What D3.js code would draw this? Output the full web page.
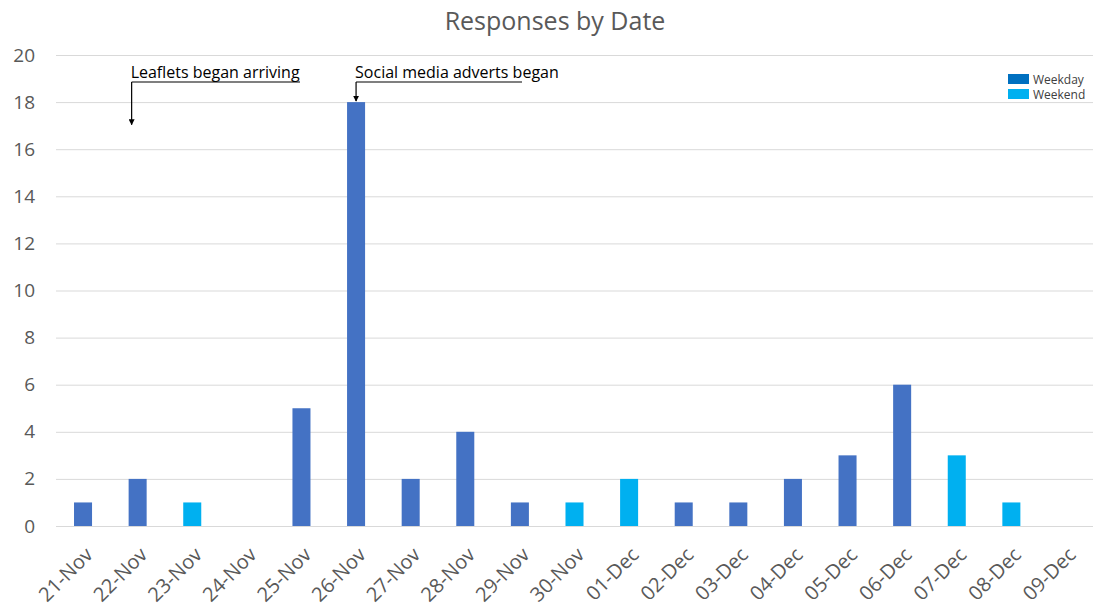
<!DOCTYPE html>
<html>
<head>
<meta charset="utf-8">
<script src="https://cdn.jsdelivr.net/npm/d3@7"></script>
<style>
  body { margin: 0; background: #fff; }
  svg { font-family: "Open Sans", "Noto Sans", sans-serif; }
</style>
</head>
<body>
<svg id="chart" width="1098" height="606"></svg>
<script>
// Daily response counts, with weekday/weekend flag per date
const dates = ["21-Nov","22-Nov","23-Nov","24-Nov","25-Nov","26-Nov","27-Nov","28-Nov","29-Nov","30-Nov",
               "01-Dec","02-Dec","03-Dec","04-Dec","05-Dec","06-Dec","07-Dec","08-Dec","09-Dec"];
const responses = [1,2,1,0,5,18,2,4,1,1,2,1,1,2,3,6,3,1,0];
const dayType = ["Weekday","Weekday","Weekend","Weekend","Weekday","Weekday","Weekday","Weekday","Weekday","Weekend",
                 "Weekend","Weekday","Weekday","Weekday","Weekday","Weekday","Weekend","Weekend","Weekday"];
const yTicks = [0,2,4,6,8,10,12,14,16,18,20];
const legendItems = ["Weekday","Weekend"];
const annotations = [
  {date: "22-Nov", label: "Leaflets began arriving", target: 17, shift: -6, lineEnd: 300},
  {date: "26-Nov", label: "Social media adverts began", target: 18, shift: 0, lineEnd: 522}
];

const svg = d3.select("#chart");
const margin = {top: 55, right: 5, bottom: 80, left: 56};
const W = 1098, H = 606;
const FONT = "'Open Sans', 'Noto Sans', sans-serif";

const x = d3.scaleBand().domain(dates).range([margin.left, W - margin.right]).paddingInner(0.67).paddingOuter(0.33);
const y = d3.scaleLinear().domain([0, 20]).range([H - margin.bottom, margin.top]);

const barColor = {Weekday: "#4472C4", Weekend: "#00B0F0"};
const legendColor = {Weekday: "#0070C0", Weekend: "#00B0F0"};

// Title
svg.append("text").attr("x", 555).attr("y", 30).attr("text-anchor", "middle")
  .attr("font-size", 25).attr("fill", "#595959").text("Responses by Date");

// Gridlines
svg.append("g").selectAll("line").data(yTicks).join("line")
  .attr("x1", margin.left).attr("x2", W - margin.right)
  .attr("y1", d => y(d) + 0.5).attr("y2", d => y(d) + 0.5)
  .attr("stroke", "#d9d9d9").attr("stroke-width", 1);

// Y axis labels
const yAxis = svg.append("g").attr("transform", `translate(${margin.left},0)`)
  .call(d3.axisLeft(y).tickValues(yTicks).tickSize(0).tickPadding(21));
yAxis.select(".domain").remove();
yAxis.selectAll("text").attr("font-size", 19).attr("fill", "#595959").attr("font-family", FONT);

// Bars
svg.append("g").selectAll("rect").data(dates).join("rect")
  .attr("x", d => x(d))
  .attr("width", x.bandwidth())
  .attr("y", (d, i) => y(responses[i]))
  .attr("height", (d, i) => y(0) - y(responses[i]))
  .attr("fill", (d, i) => barColor[dayType[i]]);

// X axis labels
const xAxis = svg.append("g").attr("transform", `translate(0,${y(0)})`)
  .call(d3.axisBottom(x).tickSize(0).tickPadding(0));
xAxis.select(".domain").remove();
xAxis.selectAll("text")
  .attr("font-size", 20).attr("fill", "#595959").attr("font-family", FONT)
  .attr("text-anchor", "end")
  .attr("dy", "0")
  .attr("transform", "translate(11,30) rotate(-45)");

// Annotations with arrows
const defs = svg.append("defs");
defs.append("marker").attr("id", "arrow").attr("viewBox", "0 0 10 10")
  .attr("refX", 9).attr("refY", 5).attr("markerWidth", 5).attr("markerHeight", 5)
  .attr("orient", "auto")
  .append("path").attr("d", "M0,0 L10,5 L0,10 z").attr("fill", "#000");

const lineY = 82;
annotations.forEach(a => {
  const cx = x(a.date) + x.bandwidth() / 2 + a.shift;
  svg.append("text").attr("x", cx - 1).attr("y", lineY - 4)
    .attr("font-size", 16).attr("fill", "#000").text(a.label);
  svg.append("line").attr("x1", cx).attr("x2", a.lineEnd).attr("y1", lineY).attr("y2", lineY)
    .attr("stroke", "#000").attr("stroke-width", 1.2);
  svg.append("line").attr("x1", cx).attr("x2", cx).attr("y1", lineY).attr("y2", y(a.target) - 1)
    .attr("stroke", "#000").attr("stroke-width", 1.2).attr("marker-end", "url(#arrow)");
});

// Legend
const legend = svg.append("g").attr("transform", "translate(1008,74)");
legendItems.forEach((k, i) => {
  legend.append("rect").attr("x", 0).attr("y", i * 15).attr("width", 21).attr("height", 10).attr("fill", legendColor[k]);
  legend.append("text").attr("x", 25).attr("y", i * 15 + 9.5).attr("font-size", 12).attr("fill", "#404040").text(k);
});
</script>
</body>
</html>
